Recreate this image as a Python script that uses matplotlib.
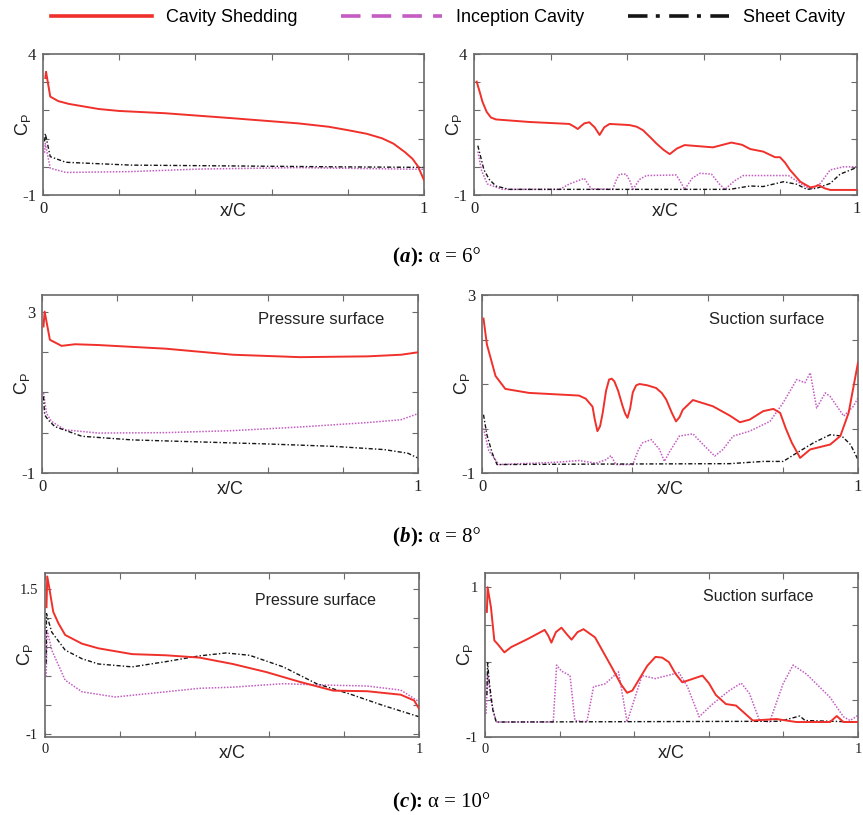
import matplotlib
matplotlib.use("Agg")
import matplotlib.pyplot as plt
from matplotlib.lines import Line2D

# chordwise pressure coefficient, three angles of attack, two surfaces each
# alpha = 6 deg, pressure side
a6_ps_shed_x = [0.006, 0.008, 0.019, 0.04, 0.068, 0.146, 0.2, 0.32, 0.5, 0.67, 0.75, 0.8, 0.85, 0.89, 0.92,
                0.95, 0.97, 0.984, 1.0]
a6_ps_shed_y = [3.15, 3.37, 2.49, 2.33, 2.23, 2.05, 1.98, 1.90, 1.72, 1.54, 1.42, 1.30, 1.17, 1.01, 0.82,
                0.52, 0.28, 0.02, -0.47]
a6_ps_inc_x = [0.004, 0.006, 0.019, 0.06, 0.23, 0.41, 0.67, 1.0]
a6_ps_inc_y = [0.5, 0.83, -0.05, -0.2, -0.17, -0.08, -0.03, -0.09]
a6_ps_sheet_x = [0.004, 0.006, 0.019, 0.06, 0.23, 0.5, 0.76, 1.0]
a6_ps_sheet_y = [0.9, 1.18, 0.36, 0.16, 0.06, 0.03, 0.0, -0.02]

# alpha = 6 deg, suction side
a6_ss_shed_x = [0.007, 0.015, 0.022, 0.033, 0.044, 0.057, 0.144, 0.249, 0.262, 0.271, 0.280, 0.288, 0.301,
                0.315, 0.328, 0.340, 0.354, 0.406, 0.425, 0.441, 0.460, 0.476, 0.495, 0.511, 0.530, 0.550,
                0.624, 0.672, 0.700, 0.721, 0.755, 0.786, 0.799, 0.812, 0.825, 0.852, 0.878, 0.890, 0.900,
                0.915, 0.930, 1.0]
a6_ss_shed_y = [3.02, 2.65, 2.31, 1.95, 1.75, 1.68, 1.59, 1.52, 1.42, 1.34, 1.45, 1.54, 1.58,
                1.40, 1.13, 1.40, 1.52, 1.48, 1.42, 1.30, 1.05, 0.83, 0.60, 0.45, 0.65, 0.77,
                0.69, 0.86, 0.78, 0.63, 0.54, 0.34, 0.34, 0.15, -0.11, -0.53, -0.73, -0.70, -0.65,
                -0.76, -0.82, -0.82]
a6_ss_inc_x = [0.010, 0.020, 0.035, 0.074, 0.223, 0.249, 0.288, 0.306, 0.362, 0.372, 0.380, 0.397, 0.407,
               0.415, 0.432, 0.450, 0.528, 0.540, 0.550, 0.570, 0.590, 0.620, 0.640, 0.655, 0.680, 0.703,
               0.821, 0.852, 0.878, 0.904, 0.930, 0.965, 1.0]
a6_ss_inc_y = [0.54, -0.15, -0.61, -0.80, -0.80, -0.61, -0.41, -0.78, -0.80, -0.45, -0.26, -0.26, -0.50,
               -0.80, -0.45, -0.31, -0.29, -0.55, -0.80, -0.40, -0.23, -0.26, -0.60, -0.80, -0.50, -0.31,
               -0.31, -0.59, -0.80, -0.59, -0.11, 0.0, 0.0]
a6_ss_sheet_x = [0.010, 0.026, 0.040, 0.057, 0.092, 0.668, 0.721, 0.755, 0.808, 0.843, 0.869, 0.895, 0.930,
                 0.956, 1.0]
a6_ss_sheet_y = [0.75, -0.11, -0.45, -0.68, -0.80, -0.80, -0.68, -0.70, -0.53, -0.62, -0.80, -0.76, -0.59,
                 -0.26, -0.02]

# alpha = 8 deg, pressure side
a8_ps_shed_x = [0.004, 0.007, 0.021, 0.052, 0.088, 0.150, 0.329, 0.508, 0.687, 0.866, 0.955, 1.0]
a8_ps_shed_y = [2.63, 3.0, 2.30, 2.15, 2.19, 2.17, 2.08, 1.93, 1.87, 1.89, 1.93, 1.99]
a8_ps_inc_x = [0.004, 0.012, 0.025, 0.061, 0.150, 0.329, 0.508, 0.687, 0.866, 0.955, 1.0]
a8_ps_inc_y = [0.98, 0.48, 0.28, 0.07, -0.01, 0.0, 0.05, 0.14, 0.25, 0.32, 0.47]
a8_ps_sheet_x = [0.004, 0.007, 0.016, 0.034, 0.106, 0.240, 0.419, 0.597, 0.776, 0.910, 0.973, 1.0]
a8_ps_sheet_y = [0.9, 0.44, 0.32, 0.15, -0.09, -0.18, -0.23, -0.28, -0.34, -0.42, -0.51, -0.63]

# alpha = 8 deg, suction side
a8_ss_shed_x = [0.004, 0.013, 0.036, 0.062, 0.125, 0.214, 0.258, 0.276, 0.294, 0.300, 0.307, 0.314, 0.321,
                0.330, 0.338, 0.345, 0.352, 0.362, 0.374, 0.381, 0.387, 0.394, 0.401, 0.410, 0.419, 0.440,
                0.463, 0.478, 0.490, 0.505, 0.516, 0.525, 0.534, 0.561, 0.614, 0.659, 0.686, 0.712, 0.748,
                0.775, 0.793, 0.808, 0.824, 0.846, 0.873, 0.926, 0.953, 0.975, 1.0]
a8_ss_shed_y = [2.47, 1.89, 1.18, 0.89, 0.80, 0.76, 0.74, 0.67, 0.49, 0.20, -0.06, 0.05, 0.35,
                0.85, 1.10, 1.12, 1.06, 0.85, 0.50, 0.33, 0.24, 0.45, 0.81, 0.97, 1.00, 0.97,
                0.91, 0.80, 0.65, 0.35, 0.16, 0.25, 0.42, 0.64, 0.50, 0.29, 0.14, 0.20, 0.39,
                0.44, 0.35, 0.00, -0.32, -0.66, -0.47, -0.36, -0.17, 0.35, 1.48]
a8_ss_inc_x = [0.004, 0.018, 0.045, 0.196, 0.258, 0.303, 0.330, 0.343, 0.356, 0.401, 0.415, 0.427, 0.450,
               0.472, 0.485, 0.499, 0.525, 0.561, 0.588, 0.619, 0.641, 0.668, 0.712, 0.766, 0.801, 0.837,
               0.859, 0.873, 0.890, 0.913, 0.926, 0.962, 0.988, 1.0]
a8_ss_inc_y = [0.0, -0.5, -0.81, -0.76, -0.72, -0.78, -0.70, -0.61, -0.81, -0.81, -0.50, -0.32, -0.25,
               -0.47, -0.74, -0.52, -0.17, -0.12, -0.36, -0.62, -0.47, -0.17, -0.06, 0.16, 0.58, 1.10,
               1.03, 1.25, 0.46, 0.80, 0.72, 0.28, 0.50, 0.69]
a8_ss_sheet_x = [0.004, 0.013, 0.027, 0.040, 0.303, 0.659, 0.748, 0.801, 0.837, 0.882, 0.926, 0.957, 0.980, 1.0]
a8_ss_sheet_y = [0.31, -0.14, -0.55, -0.81, -0.80, -0.79, -0.74, -0.74, -0.55, -0.32, -0.14, -0.17, -0.36, -0.70]

# alpha = 10 deg, pressure side
a10_ps_shed_x = [0.004, 0.006, 0.011, 0.022, 0.036, 0.054, 0.099, 0.143, 0.233, 0.323, 0.413, 0.502, 0.592,
                 0.682, 0.771, 0.861, 0.951, 0.987, 1.0]
a10_ps_shed_y = [1.18, 1.71, 1.53, 1.10, 0.90, 0.70, 0.55, 0.47, 0.37, 0.35, 0.31, 0.20, 0.06,
                 -0.11, -0.26, -0.27, -0.33, -0.43, -0.57]
a10_ps_inc_x = [0.003, 0.006, 0.018, 0.054, 0.099, 0.188, 0.278, 0.413, 0.502, 0.637, 0.726, 0.861, 0.951, 1.0]
a10_ps_inc_y = [-0.02, 0.78, 0.44, -0.08, -0.28, -0.37, -0.31, -0.22, -0.20, -0.14, -0.16, -0.18, -0.25, -0.45]
a10_ps_sheet_x = [0.003, 0.004, 0.009, 0.018, 0.054, 0.099, 0.143, 0.233, 0.323, 0.413, 0.484, 0.547, 0.637,
                  0.726, 0.816, 0.906, 1.0]
a10_ps_sheet_y = [0.21, 1.07, 0.95, 0.75, 0.44, 0.29, 0.20, 0.15, 0.24, 0.34, 0.39, 0.35, 0.15,
                  -0.14, -0.32, -0.52, -0.71]

# alpha = 10 deg, suction side
a10_ss_shed_x = [0.005, 0.007, 0.016, 0.025, 0.034, 0.052, 0.070, 0.115, 0.160, 0.170, 0.178, 0.190, 0.205,
                 0.218, 0.232, 0.248, 0.264, 0.295, 0.340, 0.365, 0.381, 0.395, 0.412, 0.435, 0.457, 0.475,
                 0.493, 0.510, 0.529, 0.583, 0.600, 0.619, 0.646, 0.673, 0.718, 0.781, 0.835, 0.925, 0.943,
                 0.961, 1.0]
a10_ss_shed_y = [0.67, 1.00, 0.73, 0.29, 0.24, 0.13, 0.20, 0.31, 0.43, 0.35, 0.26, 0.40, 0.46,
                 0.38, 0.30, 0.40, 0.44, 0.33, -0.07, -0.30, -0.41, -0.38, -0.24, -0.05, 0.07, 0.06,
                 0.0, -0.15, -0.27, -0.18, -0.28, -0.44, -0.56, -0.58, -0.78, -0.76, -0.80, -0.80, -0.72,
                 -0.80, -0.80]
a10_ss_inc_x = [0.003, 0.007, 0.016, 0.030, 0.183, 0.192, 0.205, 0.228, 0.241, 0.273, 0.291, 0.322, 0.358,
                0.381, 0.421, 0.457, 0.520, 0.543, 0.574, 0.610, 0.655, 0.687, 0.709, 0.736, 0.763, 0.799,
                0.826, 0.862, 0.925, 0.961, 0.979, 1.0]
a10_ss_inc_y = [-0.69, -0.16, -0.51, -0.80, -0.80, -0.04, -0.12, -0.18, -0.78, -0.80, -0.33, -0.29, -0.13,
                -0.80, -0.18, -0.22, -0.14, -0.33, -0.73, -0.56, -0.38, -0.28, -0.42, -0.78, -0.80, -0.29,
                -0.04, -0.16, -0.47, -0.73, -0.78, -0.71]
a10_ss_sheet_x = [0.005, 0.007, 0.012, 0.021, 0.030, 0.790, 0.844, 0.858, 1.0]
a10_ss_sheet_y = [-0.44, -0.01, -0.29, -0.64, -0.80, -0.79, -0.72, -0.78, -0.80]

x_ticks = [0, 0.2, 0.4, 0.6, 0.8, 1.0]
x_ticklabels = ["0", "", "", "", "", "1"]

series_names = ["Cavity Shedding", "Inception Cavity", "Sheet Cavity"]
captions = [("a", "6"), ("b", "8"), ("c", "10")]

RED = "#f0302a"
MAG = "#c45cc2"
BLK = "#151515"
EDGE = "#6a6a6a"

W, H = 863, 815
fig = plt.figure(figsize=(W / 100, H / 100), dpi=100)

# panel boxes in pixels: left, right, top, bottom
boxes = [
    (43, 424, 54, 195), (474, 857, 54, 195),
    (42, 418, 295, 473), (482, 858, 295, 473),
    (45, 419, 573, 737), (485, 858, 573, 737),
]

panels = [
    dict(data=[(a6_ps_shed_x, a6_ps_shed_y), (a6_ps_inc_x, a6_ps_inc_y), (a6_ps_sheet_x, a6_ps_sheet_y)],
         ylim=(-1, 4), yticks=[-1, 0, 1, 2, 3, 4], ylab=["-1", "", "", "", "", "4"], note=None, fs=12),
    dict(data=[(a6_ss_shed_x, a6_ss_shed_y), (a6_ss_inc_x, a6_ss_inc_y), (a6_ss_sheet_x, a6_ss_sheet_y)],
         ylim=(-1, 4), yticks=[-1, 0, 1, 2, 3, 4], ylab=["-1", "", "", "", "", "4"], note=None, fs=12),
    dict(data=[(a8_ps_shed_x, a8_ps_shed_y), (a8_ps_inc_x, a8_ps_inc_y), (a8_ps_sheet_x, a8_ps_sheet_y)],
         ylim=(-1, 3.41), yticks=[-1, 0, 1, 2, 3], ylab=["-1", "", "", "", "3"],
         note=("Pressure surface", 0.742, 0.86), fs=12),
    dict(data=[(a8_ss_shed_x, a8_ss_shed_y), (a8_ss_inc_x, a8_ss_inc_y), (a8_ss_sheet_x, a8_ss_sheet_y)],
         ylim=(-1, 3), yticks=[-1, 0, 1, 2, 3], ylab=["-1", "", "", "", "3"],
         note=("Suction surface", 0.758, 0.86), fs=12),
    dict(data=[(a10_ps_shed_x, a10_ps_shed_y), (a10_ps_inc_x, a10_ps_inc_y), (a10_ps_sheet_x, a10_ps_sheet_y)],
         ylim=(-1.06, 1.77), yticks=[-1, -0.5, 0, 0.5, 1, 1.5], ylab=["-1", "", "", "", "", "1.5"],
         note=("Pressure surface", 0.722, 0.83), fs=10.5),
    dict(data=[(a10_ss_shed_x, a10_ss_shed_y), (a10_ss_inc_x, a10_ss_inc_y), (a10_ss_sheet_x, a10_ss_sheet_y)],
         ylim=(-1, 1.19), yticks=[-1, -0.5, 0, 0.5, 1], ylab=["-1", "", "", "", "1"],
         note=("Suction surface", 0.732, 0.854), fs=10.5),
]

for (l, r, t, b), p in zip(boxes, panels):
    ax = fig.add_axes([l / W, 1 - b / H, (r - l) / W, (b - t) / H])
    (sx, sy), (ix, iy), (kx, ky) = p["data"]
    ax.plot(sx, sy, color=RED, lw=1.4, zorder=3, solid_joinstyle="round")
    ax.plot(ix, iy, color=MAG, lw=1.1, ls=(0, (1, 1)), zorder=2)
    ax.plot(kx, ky, color=BLK, lw=1.0, ls=(0, (3, 1.5, 1, 1.5)), zorder=2)

    ax.set_xlim(0, 1)
    ax.set_ylim(*p["ylim"])
    ax.set_xticks(x_ticks)
    ax.set_xticklabels(x_ticklabels)
    ax.set_yticks(p["yticks"])
    ax.set_yticklabels(p["ylab"])
    ax.tick_params(direction="in", length=4, width=0.8, color=EDGE, top=True, right=True,
                   labelsize=p["fs"], labelcolor="#222222")
    ax.tick_params(axis="y", pad=5)
    ax.tick_params(axis="x", pad=4)
    for lab in ax.get_xticklabels() + ax.get_yticklabels():
        lab.set_fontfamily("Liberation Serif")
    for sp in ax.spines.values():
        sp.set_color(EDGE)
        sp.set_linewidth(1.2)

    ax.set_xlabel("x/C", fontsize=13, fontfamily="Liberation Sans", color="#222222", va="center")
    ax.xaxis.set_label_coords(0.5, -17 / (b - t))
    ax.set_ylabel("C$_\\mathregular{P}$", fontsize=13, fontfamily="Liberation Sans", color="#222222",
                  va="center")
    ax.yaxis.set_label_coords(-20 / (r - l), 0.5)

    if p["note"]:
        txt, nx, ny = p["note"]
        ax.text(nx, ny, txt, transform=ax.transAxes, ha="center", va="center",
                fontsize=12 if p["fs"] > 11 else 11.5, fontfamily="Liberation Sans", color="#222222")

# captions under each row: bold "(x):" with italic letter, then the angle
cap_kw = dict(fontsize=15, fontfamily="Liberation Serif", va="bottom", ha="left",
              textcoords="offset points")
for (letter, ang), yc in zip(captions, [257, 537, 802]):
    t1 = fig.text(392 / W, 1 - yc / H, "(", fontsize=15, fontfamily="Liberation Serif",
                  fontweight="bold", va="center", ha="left")
    t2 = fig.add_artist(plt.Annotation(letter, xy=(1, 0), xycoords=t1, xytext=(0.5, 0),
                                       fontweight="bold", style="italic", **cap_kw))
    t3 = fig.add_artist(plt.Annotation("):", xy=(1, 0), xycoords=t2, xytext=(0.5, 0),
                                       fontweight="bold", **cap_kw))
    fig.add_artist(plt.Annotation("\u03b1 = " + ang + "\u00b0", xy=(1, 0), xycoords=t3,
                                  xytext=(3, 0), **cap_kw))

handles = [
    Line2D([], [], color=RED, lw=2.6),
    Line2D([], [], color=MAG, lw=2.6, dashes=(5.4, 3.1)),
    Line2D([], [], color=BLK, lw=2.6, dashes=(5.4, 2.3, 1.1, 2.6)),
]
fig.legend(handles, series_names, loc="center", bbox_to_anchor=(448 / W, 1 - 18 / H), ncol=3,
           frameon=False, handlelength=5.6, handletextpad=0.8, columnspacing=2.4,
           prop={"family": "Liberation Sans", "size": 13})

fig.savefig("out.png", dpi=100)
